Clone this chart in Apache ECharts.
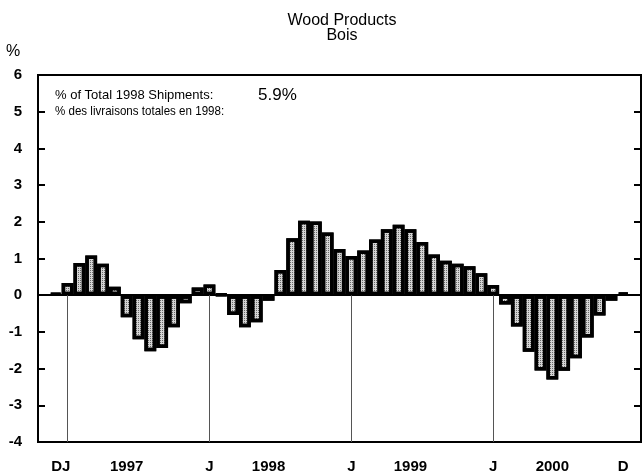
<!DOCTYPE html>
<html>
<head>
<meta charset="utf-8">
<script src="https://cdn.jsdelivr.net/npm/echarts@6/dist/echarts.min.js"></script>
<style>
html,body{margin:0;padding:0;background:#fff;}
#chart{width:644px;height:475px;}
</style>
</head>
<body>
<div id="chart"></div>
<script>
// Months: padding slot, Dec 1996 .. Dec 2000, padding slot
const months = ['pad0',
  'Dec96',
  'Jan97','Feb97','Mar97','Apr97','May97','Jun97','Jul97','Aug97','Sep97','Oct97','Nov97','Dec97',
  'Jan98','Feb98','Mar98','Apr98','May98','Jun98','Jul98','Aug98','Sep98','Oct98','Nov98','Dec98',
  'Jan99','Feb99','Mar99','Apr99','May99','Jun99','Jul99','Aug99','Sep99','Oct99','Nov99','Dec99',
  'Jan00','Feb00','Mar00','Apr00','May00','Jun00','Jul00','Aug00','Sep00','Oct00','Nov00','Dec00',
  'pad1'];

const values = [null,
  0.05,
  0.33, 0.88, 1.08, 0.86, 0.23, -0.6, -1.2, -1.53, -1.44, -0.87, -0.22, 0.21,
  0.29, 0.02, -0.54, -0.87, -0.74, -0.15, 0.69, 1.55, 2.03, 2.01, 1.71, 1.26,
  1.07, 1.22, 1.52, 1.8, 1.92, 1.8, 1.45, 1.11, 0.94, 0.86, 0.79, 0.6,
  0.28, -0.25, -0.85, -1.54, -2.05, -2.3, -2.06, -1.72, -1.15, -0.55, -0.15, 0.07,
  null];

const xTickLabels = {
  'Dec96': 'DJ', 'Jun97': '1997', 'Jan98': 'J', 'Jun98': '1998',
  'Jan99': 'J', 'Jun99': '1999', 'Jan00': 'J', 'Jun00': '2000', 'Dec00': 'D'
};

const janMonths = ['Jan97', 'Jan98', 'Jan99', 'Jan00'];

const yMin = -4, yMax = 6, yStep = 1;

const titleLines = ['Wood Products', 'Bois'];
const noteLine1 = '% of Total 1998 Shipments:';
const noteLine2 = '% des livraisons totales en 1998:';
const noteValue = '5.9%';
const yUnit = '%';

const FONT = '"Liberation Sans", Arial, Helvetica, sans-serif';

const chart = echarts.init(document.getElementById('chart'), null, {renderer: 'canvas'});

const option = {
  animation: false,
  backgroundColor: '#fff',
  title: {
    text: titleLines.join('\n'),
    left: 337, top: 8, textAlign: 'center',
    textStyle: {fontFamily: FONT, fontSize: 16, fontWeight: 'normal', color: '#000', lineHeight: 15}
  },
  graphic: [
    {type: 'text', left: 6, top: 44, style: {text: yUnit, font: '16px ' + FONT, fill: '#000'}},
    {type: 'text', left: 55, top: 89, style: {text: noteLine1, font: '13px ' + FONT, fill: '#000'}},
    {type: 'text', left: 258, top: 87, style: {text: noteValue, font: '17px ' + FONT, fill: '#000'}},
    {type: 'text', x: 55, y: 105, scaleX: 0.89, style: {text: noteLine2, font: '13px ' + FONT, fill: '#000'}}
  ],
  grid: {
    left: 38, right: 3, top: 75, bottom: 33,
    show: true, borderColor: '#000', borderWidth: 2, backgroundColor: 'transparent'
  },
  xAxis: {
    type: 'category',
    data: months,
    boundaryGap: true,
    axisLine: {show: true, onZero: false, lineStyle: {color: '#000', width: 2}},
    axisTick: {show: false},
    splitLine: {show: false},
    axisLabel: {
      interval: 0, margin: 17,
      fontFamily: FONT, fontSize: 15, fontWeight: 'bold', color: '#000',
      formatter: (v) => v === 'Dec96' ? '{dj|DJ}' : (xTickLabels[v] || ''),
      rich: {dj: {fontFamily: FONT, fontSize: 15, fontWeight: 'bold', color: '#000', padding: [0, 0, 0, 10]}}
    }
  },
  yAxis: [
    {
      type: 'value', min: yMin, max: yMax, interval: yStep,
      axisLine: {show: true, lineStyle: {color: '#000', width: 2}},
      axisTick: {show: true, inside: true, length: 7, lineStyle: {color: '#000', width: 2}},
      splitLine: {show: false},
      axisLabel: {margin: 16, fontFamily: FONT, fontSize: 15, fontWeight: 'bold', color: '#000'}
    },
    {
      type: 'value', min: yMin, max: yMax, interval: yStep, position: 'right',
      axisLine: {show: true, lineStyle: {color: '#000', width: 2}},
      axisTick: {show: true, inside: true, length: 7, lineStyle: {color: '#000', width: 2}},
      splitLine: {show: false},
      axisLabel: {show: false}
    }
  ],
  series: [{
    type: 'bar',
    data: values,
    barCategoryGap: '0%',
    barGap: '0%',
    itemStyle: {
      color: '#d4d4d4',
      borderColor: '#000',
      borderWidth: 3.5,
      decal: {
        symbol: 'rect',
        symbolSize: 1,
        dashArrayX: [1, 1],
        dashArrayY: [1, 1],
        color: 'rgba(0,0,0,0.5)'
      }
    },
    z: 3,
    markLine: {
      silent: true,
      symbol: 'none',
      label: {show: false},
      animation: false,
      data: [
        {yAxis: 0, lineStyle: {color: '#000', width: 2, type: 'solid'}}
      ].concat(janMonths.map(m => [
        {coord: [m, 0], lineStyle: {color: '#555', width: 1, type: 'solid'}},
        {coord: [m, yMin]}
      ]))
    }
  }]
};

chart.setOption(option);
</script>
</body>
</html>
